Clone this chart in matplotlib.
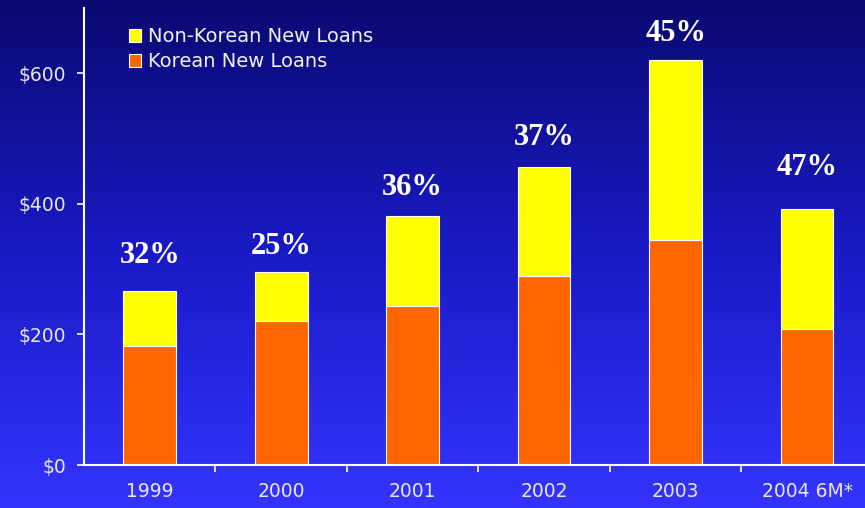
import numpy as np
import matplotlib.pyplot as plt
from matplotlib.colors import LinearSegmentedColormap

years = ["1999", "2000", "2001", "2002", "2003", "2004 6M*"]
korean = [182, 221, 244, 289, 344, 208]
non_korean = [84, 75, 138, 168, 276, 184]
pct_labels = ["32%", "25%", "36%", "37%", "45%", "47%"]
label_gap = [26, 18, 20, 21, 19, 30]  # points above the stack
yticks = [0, 200, 400, 600]
ytick_labels = ["$0", "$200", "$400", "$600"]

fig = plt.figure(figsize=(8.65, 5.08), dpi=100)

# blue gradient background
bg = fig.add_axes([0, 0, 1, 1])
grad = np.linspace(0, 1, 256).reshape(-1, 1)
cmap = LinearSegmentedColormap.from_list("bg", ["#0a0a72", "#1a1ac6", "#3434ff"])
bg.imshow(grad, aspect="auto", cmap=cmap, extent=[0, 1, 0, 1], origin="upper")
bg.set_axis_off()

ax = fig.add_axes([0.0971, 0.0846, 0.912, 0.8996])
ax.patch.set_alpha(0)

x = np.arange(len(years))
w = 0.40
totals = [k + n for k, n in zip(korean, non_korean)]
ax.bar(x, korean, w, color="#ff6600", edgecolor="white", linewidth=0.8,
       label="Korean New Loans")
ax.bar(x, non_korean, w, bottom=korean, color="#ffff00", edgecolor="white",
       linewidth=0.8, label="Non-Korean New Loans")

for xi, t, lab, g in zip(x, totals, pct_labels, label_gap):
    ax.annotate(lab, (xi, t), xytext=(0, g), textcoords="offset points",
                ha="center", va="center", color="white", fontsize=22,
                fontweight="bold", family="Liberation Serif")

ax.set_xlim(-0.5, 5.5)
ax.set_ylim(0, 700)

ax.set_yticks(yticks)
ax.set_yticklabels(ytick_labels)
ax.set_xticks(x)
ax.set_xticklabels(years)
ax.set_xticks(x[:-1] + 0.5, minor=True)

for s in ["top", "right"]:
    ax.spines[s].set_visible(False)
for s in ["left", "bottom"]:
    ax.spines[s].set_color("white")
    ax.spines[s].set_linewidth(1.5)

ax.tick_params(axis="x", which="major", length=0, pad=12, labelsize=13.5,
               labelcolor="#e8e8e8")
ax.tick_params(axis="x", which="minor", length=5, width=1.2, color="white")
ax.tick_params(axis="y", length=5, width=1.2, color="white", pad=8,
               labelsize=13.5, labelcolor="#e8e8e8")

h, l = ax.get_legend_handles_labels()
leg = ax.legend(h[::-1], l[::-1], loc="upper left", bbox_to_anchor=(0.047, 0.975),
                frameon=False, fontsize=14, handlelength=0.65, handleheight=0.65,
                handletextpad=0.35, labelspacing=0.3, borderaxespad=0)
for t in leg.get_texts():
    t.set_color("#f0f0f0")

fig.savefig("out.png", dpi=100)
